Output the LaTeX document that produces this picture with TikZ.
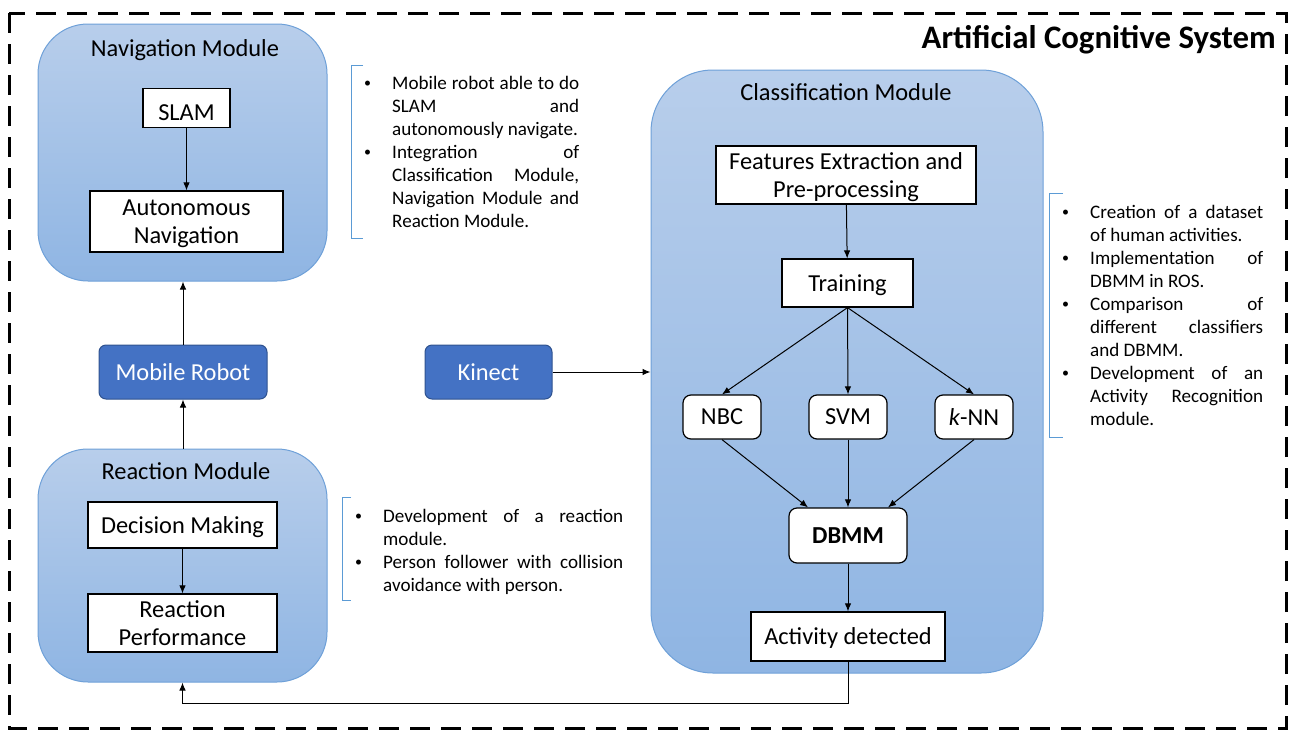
\documentclass[tikz,border=0pt]{standalone}
\usepackage{fontspec}
\setmainfont{Carlito}
\usetikzlibrary{arrows.meta,calc}

\definecolor{modtop}{RGB}{184,206,235}
\definecolor{modbot}{RGB}{143,181,227}
\definecolor{modline}{RGB}{110,160,216}
\definecolor{robotfill}{RGB}{68,114,196}
\definecolor{robotline}{RGB}{47,82,143}
\definecolor{bracketblue}{RGB}{91,155,213}

% small bullet mark used in the note lists
\newcommand\notemark{\hspace*{1pt}\raisebox{1.6pt}{\fontsize{14}{14}\selectfont\textbullet}}

% bullet list with the bullet flush left in a fixed margin
\newenvironment{blist}{%
  \begin{list}{\notemark}{%
    \setlength\leftmargin{29pt}\setlength\labelwidth{29pt}%
    \setlength\labelsep{0pt}\setlength\itemsep{0pt}%
    \setlength\parsep{0pt}\setlength\topsep{0pt}\setlength\partopsep{0pt}%
    \renewcommand\makelabel[1]{##1\hfil}}%
  \hyphenpenalty=10000 \exhyphenpenalty=10000 \tolerance=10000 \hbadness=10000}%
  {\end{list}}

\tikzset{
  module/.style={draw=modline, line width=1pt, top color=modtop, bottom color=modbot,
    inner sep=0pt},
  modtitle/.style={font=\fontsize{24.4}{28}\selectfont, inner sep=0pt, text depth=0pt},
  stepbox/.style={draw, fill=white, line width=1.2pt, inner sep=0pt, text depth=0pt,
    align=center, font=\fontsize{24.4}{28.5}\selectfont},
  clsbox/.style={stepbox, rounded corners=8pt},
  hwbox/.style={draw=robotline, fill=robotfill, line width=1pt, rounded corners=7pt,
    text=white, inner sep=0pt, text depth=0pt, font=\fontsize{24.4}{28}\selectfont},
  arr/.style={-{Latex[length=8pt,width=6.5pt]}, line width=1pt},
  bullets/.style={inner sep=0pt, anchor=base west,
    font=\fontsize{19.1}{23}\selectfont},
  bracket/.style={draw=bracketblue, line width=1pt},
}

\begin{document}
\begin{tikzpicture}[x=1pt, y=-1pt]
\useasboundingbox (0,0) rectangle (1293,731);

% outer system frame
\draw[line width=3pt, dash pattern=on 20pt off 11pt] (9,13) rectangle (1286,728);
\node[anchor=east, inner sep=0pt, font=\bfseries\fontsize{32.8}{36}\selectfont]
  (systitle) at (1276,40) {Artificial Cognitive System};

% navigation module
\node[module, rounded corners=50pt, minimum width=289pt, minimum height=257pt]
  (nav) at (182.5,152.5) {};
\node[modtitle] (navtitle) at (185,48.5) {Navigation Module};
\node[stepbox, minimum width=87pt, minimum height=39pt, text height=25pt] (slam)
  at (186.5,108) {SLAM};
\node[stepbox, minimum width=193pt, minimum height=61pt] (auto) at (186.5,221.5)
  {Autonomous\\Navigation};
\draw[arr] (slam) -- (auto);

% mobile robot
\node[hwbox, minimum width=168pt, minimum height=54pt] (robot) at (183,372) {Mobile Robot};

% reaction module
\node[module, rounded corners=50pt, minimum width=289pt, minimum height=233pt]
  (react) at (182.5,565.5) {};
\node[modtitle] (reacttitle) at (186,471) {Reaction Module};
\node[stepbox, minimum width=189pt, minimum height=46pt] (decide) at (182.5,525)
  {Decision Making};
\node[stepbox, minimum width=189pt, minimum height=58pt] (perform) at (182.5,623)
  {Reaction\\Performance};
\draw[arr] (decide) -- (perform);

\draw[arr] (react.north -| robot.south) -- (robot.south);
\draw[arr] (robot.north) -- (robot.north |- nav.south);

% kinect sensor
\node[hwbox, minimum width=127pt, minimum height=54pt] (kinect) at (488.5,372) {Kinect};

% classification module
\node[module, rounded corners=62pt, minimum width=392pt, minimum height=603pt]
  (cls) at (847,371.5) {};
\node[modtitle] (clstitle) at (846,92) {Classification Module};
\node[stepbox, minimum width=260pt, minimum height=58pt] (feat) at (846,175)
  {Features Extraction and\\Pre-processing};
\node[stepbox, minimum width=131pt, minimum height=48pt] (train) at (847.5,283)
  {Training};
\node[clsbox, minimum width=78pt, minimum height=44pt] (nbc) at (722,417) {NBC};
\node[clsbox, minimum width=78pt, minimum height=44pt] (svm) at (848,417) {SVM};
\node[clsbox, minimum width=78pt, minimum height=44pt] (knn) at (974,417) {\textit{k}-NN};
\node[clsbox, minimum width=118pt, minimum height=55pt,
  font=\bfseries\fontsize{24.4}{28}\selectfont] (dbmm) at (848,535.5) {DBMM};
\node[stepbox, minimum width=194pt, minimum height=49pt] (act) at (848,636.5)
  {Activity detected};

\draw[arr] (kinect.east) -- (kinect.east -| cls.west);
\draw[arr] (feat) -- (train);
\draw[arr] (train.south) -- (nbc.north);
\draw[arr] (train.south) -- (svm.north);
\draw[arr] (train.south) -- (knn.north);
\draw[arr] (nbc.south) -- ($(dbmm.north)+(-40,0)$);
\draw[arr] (svm.south) -- (dbmm.north);
\draw[arr] (knn.south) -- ($(dbmm.north)+(40,0)$);
\draw[arr] (dbmm) -- (act);

% feedback from detected activity to the reaction module
\draw[arr] (act.south) -- ++(0,42) -| (react.south);

% notes on each module
\draw[bracket] (363,65) -- (351,65) -- (351,238) -- (363,238);
\node[bullets] (navnotes) at (363,89) {\begin{minipage}[t]{216pt}
\begin{blist}
\item Mobile robot able to do\linebreak SLAM and\linebreak \mbox{autonomously navigate.}
\item Integration of\linebreak Classification Module,\linebreak Navigation Module and\linebreak Reaction Module.
\end{blist}\end{minipage}};

\draw[bracket] (351,497) -- (342,497) -- (342,600) -- (351,600);
\node[bullets] (reactnotes) at (354,522) {\begin{minipage}[t]{269pt}
\begin{blist}
\item Development of a reaction\linebreak module.
\item Person follower with collision\linebreak avoidance with person.
\end{blist}\end{minipage}};

\draw[bracket] (1063,193) -- (1049,193) -- (1049,437) -- (1063,437);
\node[bullets] (clsnotes) at (1061,218) {\begin{minipage}[t]{202pt}
\begin{blist}
\item Creation of a dataset\linebreak of human activities.
\item Implementation of\linebreak DBMM in ROS.
\item Comparison of\linebreak different classifiers\linebreak and DBMM.
\item Development of an\linebreak Activity Recognition\linebreak module.
\end{blist}\end{minipage}};
\end{tikzpicture}
\end{document}
